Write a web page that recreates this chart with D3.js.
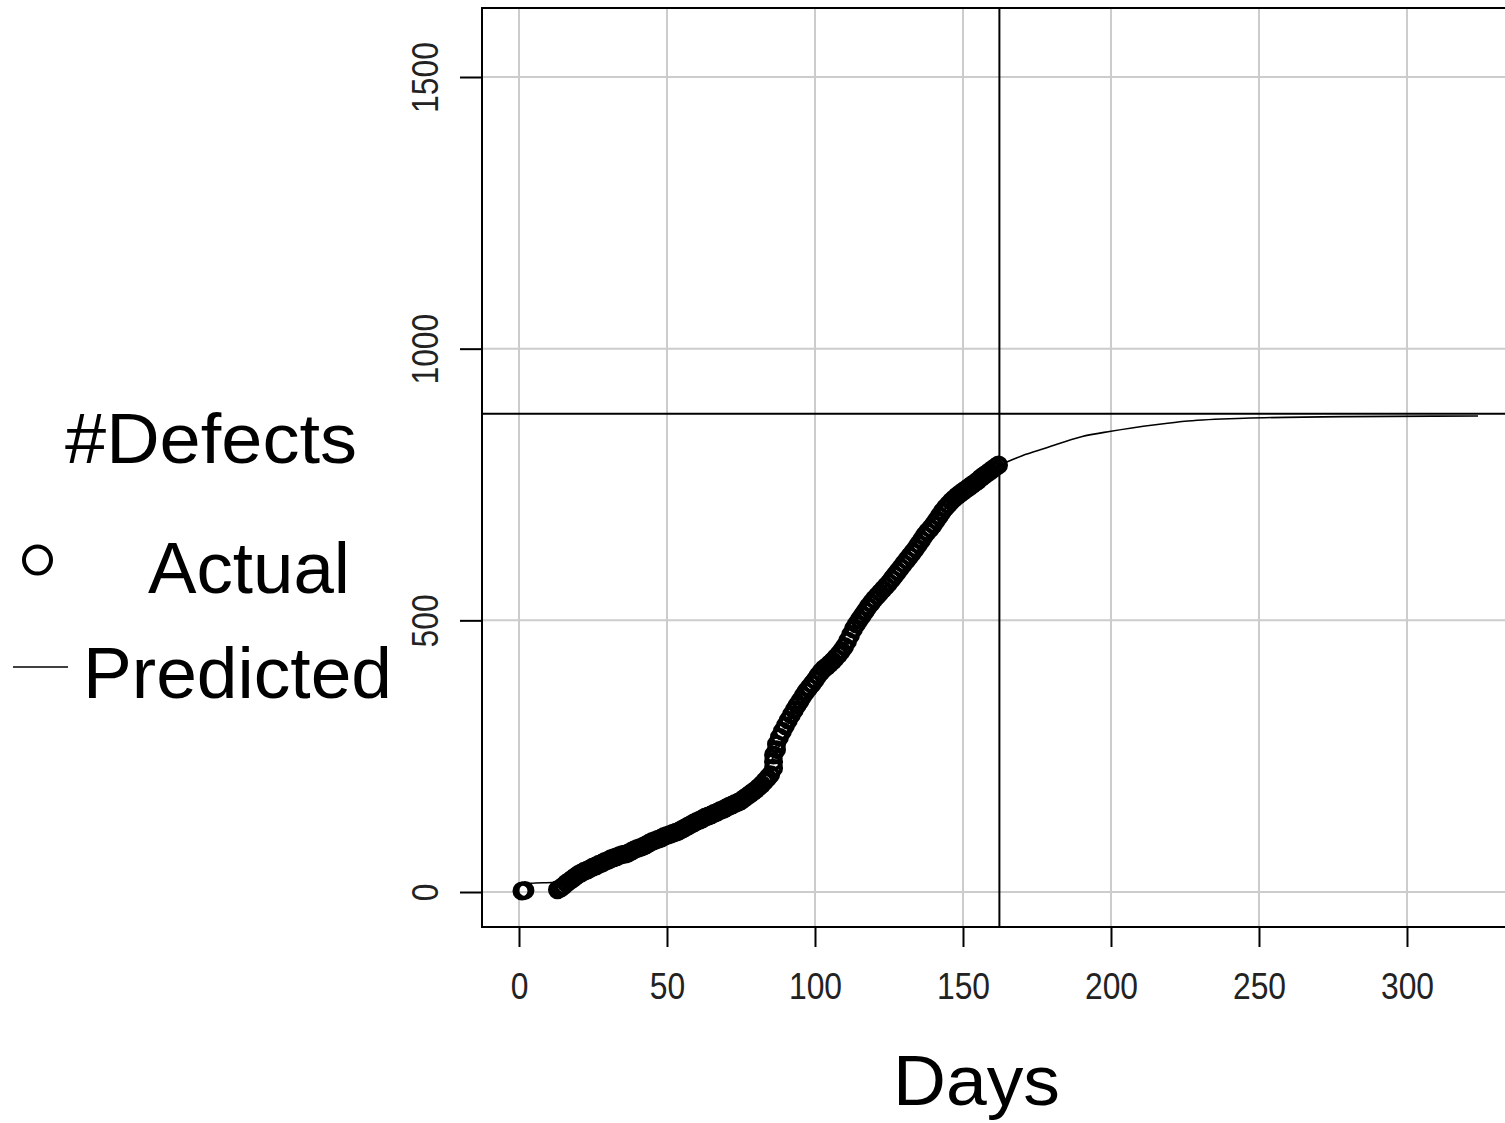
<!DOCTYPE html>
<html><head><meta charset="utf-8">
<script src="https://cdn.jsdelivr.net/npm/d3@7"></script>
<style>body{margin:0;background:#fff;} svg{display:block;}</style>
</head><body><svg id="c" width="1505" height="1123"></svg>
<script>
// Actual cumulative defects: [day, count]
const actual = [
[1,2],[2,3],
[13,4],[14,7],[15,11],[16,16],[17,20],[18,24],[19,28],[20,32],[21,35],[22,38],[23,40],[24,43],
[25,46],[26,48],[27,51],[28,53],[29,56],[30,58],[31,61],[32,63],[33,65],[34,67],[35,69],[36,70],
[37,72],[38,75],[39,78],[40,80],[41,82],[42,84],[43,87],[44,90],[45,93],[46,95],[47,97],[48,99],
[49,102],[50,104],[51,106],[52,108],[53,110],[54,112],[55,115],[56,118],[57,121],[58,124],[59,127],
[60,130],[61,132],[62,135],[63,138],[64,140],[65,142],[66,145],[67,147],[68,150],[69,152],[70,155],
[71,158],[72,160],[73,163],[74,165],[75,168],[76,172],[77,176],[78,180],[79,184],[80,188],[81,193],
[82,198],[83,204],[84,210],[85,216],[86,228],[86,240],[86,252],[87,262],[87,272],[88,285],[89,296],
[90,306],[91,316],[92,326],
[93,335],[94,344],[95,352],[96,361],[97,369],[98,376],[99,383],[100,390],[101,398],[102,405],[103,411],
[104,415],[105,420],[106,425],[107,431],[108,437],[109,444],[110,452],[111,462],[112,473],[113,484],
[114,493],[115,501],[116,509],[117,517],[118,525],[119,532],[120,539],[121,545],[122,551],[123,557],
[124,563],[125,569],[126,576],[127,583],[128,590],[129,597],[130,604],[131,611],[132,618],[133,625],
[134,632],[135,640],[136,648],[137,656],[138,663],[139,669],[140,676],[141,684],[142,692],[143,700],
[144,707],[145,713],[146,719],[147,724],[148,729],[149,733],[150,737],[151,741],[152,745],[153,749],
[154,753],[155,757],[156,762],[157,766],[158,770],[159,774],[160,778],[161,782],[162,786]
];
// Predicted (fitted) curve: [day, count]
const predicted = [
[2,14],[4,16],[12,18],[20,28],[30,46],[40,68],[50,93],[60,123],[70,160],[80,207],[85,240],[90,290],
[95,338],[100,385],[105,430],[110,470],[115,510],[120,548],[125,585],[130,620],[135,653],[140,683],
[145,710],[150,735],[155,757],[160,779],[165,792],[170,803],[178,817],[190,838],[200,848],[215,860],
[226,867],[245,872],[280,875],[324,876]
];
const xTicks = [0,50,100,150,200,250,300];
const yTicks = [0,500,1000,1500];
const asymptote = 880;
const cutoffDay = 162.3;
const xLabel = "Days";
const legendTitle = "#Defects";
const legendItems = ["Actual","Predicted"];

const svg = d3.select("#c");
const L = 482, T = 8, B = 927, R = 1516.5;
const x = d3.scaleLinear().domain([-12.5, 337]).range([L, R]);
const y = d3.scaleLinear().domain([-64.4, 1627]).range([B, T]);
const tf = "'Liberation Sans',Arial,sans-serif";

// grid
const grid = svg.append("g").attr("stroke","#cccccc").attr("stroke-width",2);
grid.selectAll(".gx").data(xTicks).join("line")
  .attr("x1",d=>x(d)).attr("x2",d=>x(d)).attr("y1",T).attr("y2",B);
grid.selectAll(".gy").data(yTicks).join("line")
  .attr("x1",L).attr("x2",R).attr("y1",d=>y(d)).attr("y2",d=>y(d));

// axes
const xAxis = d3.axisBottom(x).tickValues(xTicks).tickSize(20).tickPadding(26).tickFormat(d3.format("d"));
const gx = svg.append("g").attr("transform",`translate(0,${B})`).call(xAxis);
gx.select(".domain").remove();
gx.selectAll(".tick line").attr("stroke","#000").attr("stroke-width",2);
gx.selectAll(".tick text").attr("font-family",tf)
  .attr("font-size",36).attr("fill","#222")
  .attr("textLength",d=>String(d).length*17.7).attr("lengthAdjust","spacingAndGlyphs");

const yAxis = d3.axisLeft(y).tickValues(yTicks).tickSize(22).tickPadding(0).tickFormat(d3.format("d"));
const gy = svg.append("g").attr("transform",`translate(${L},0)`).call(yAxis);
gy.select(".domain").remove();
gy.selectAll(".tick line").attr("stroke","#000").attr("stroke-width",2);
gy.selectAll(".tick text").attr("font-family",tf)
  .attr("font-size",36).attr("fill","#222")
  .attr("text-anchor","middle").attr("dy",null).attr("x",null)
  .attr("textLength",d=>String(d).length*17.7).attr("lengthAdjust","spacingAndGlyphs")
  .attr("transform","translate(-44,0) rotate(-90)");

// box
svg.append("path").attr("d",`M${R},${T}H${L}V${B}H${R}`)
  .attr("fill","none").attr("stroke","#000").attr("stroke-width",2);

// reference lines
svg.append("line").attr("x1",L).attr("x2",R).attr("y1",y(asymptote)).attr("y2",y(asymptote))
  .attr("stroke","#000").attr("stroke-width",2);
svg.append("line").attr("x1",x(cutoffDay)).attr("x2",x(cutoffDay)).attr("y1",T).attr("y2",B)
  .attr("stroke","#000").attr("stroke-width",2);

// points
svg.append("g").selectAll("circle").data(actual).join("circle")
  .attr("cx",d=>x(d[0])).attr("cy",d=>y(d[1])).attr("r",7.5)
  .attr("fill","none").attr("stroke","#000").attr("stroke-width",4);

// predicted line
const line = d3.line().x(d=>x(d[0])).y(d=>y(d[1])).curve(d3.curveMonotoneX);
svg.append("path").datum(predicted).attr("d",line)
  .attr("fill","none").attr("stroke","#000").attr("stroke-width",1.6);

// x label
svg.append("text").attr("x",893).attr("y",1105).text(xLabel)
  .attr("font-family",tf).attr("font-size",70)
  .attr("textLength",167).attr("lengthAdjust","spacingAndGlyphs");

// legend
svg.append("text").attr("x",65).attr("y",463).text(legendTitle)
  .attr("font-family",tf).attr("font-size",70).attr("textLength",292).attr("lengthAdjust","spacingAndGlyphs");
svg.append("circle").attr("cx",37.5).attr("cy",560).attr("r",13.5)
  .attr("fill","none").attr("stroke","#000").attr("stroke-width",4);
svg.append("text").attr("x",148).attr("y",593).text(legendItems[0])
  .attr("font-family",tf).attr("font-size",73).attr("textLength",202).attr("lengthAdjust","spacingAndGlyphs");
svg.append("line").attr("x1",13).attr("x2",68).attr("y1",667).attr("y2",667)
  .attr("stroke","#000").attr("stroke-width",1.6);
svg.append("text").attr("x",83).attr("y",698).text(legendItems[1])
  .attr("font-family",tf).attr("font-size",73).attr("textLength",309).attr("lengthAdjust","spacingAndGlyphs");
</script></body></html>
